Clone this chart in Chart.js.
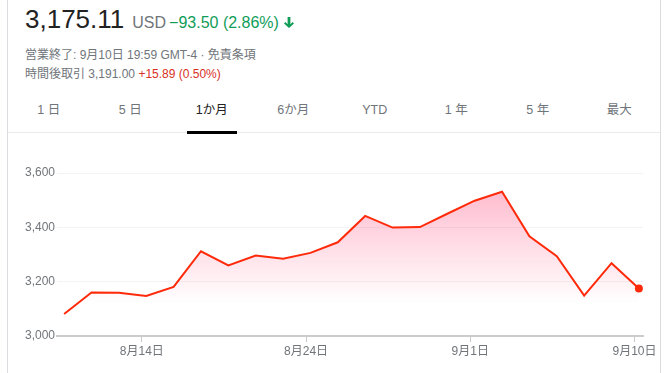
<!DOCTYPE html>
<html lang="ja">
<head>
    <meta charset="UTF-8">
    <title>株価 1か月</title>
    <script src="https://cdn.jsdelivr.net/npm/chart.js@4.4.8/dist/chart.umd.min.js"></script>
    <style>
        body { margin: 0; width: 669px; height: 373px; overflow: hidden; background: #fff;
               font-family: "Liberation Sans", Arial, "Noto Sans CJK JP", sans-serif; position: relative; }
        .frame { position: absolute; left: 7px; top: 0; width: 652px; height: 373px;
                 border-left: 1px solid #dadce0; border-right: 1px solid #dadce0; z-index: 2; pointer-events: none; }
        .price { position: absolute; left: 25px; top: 4px; font-size: 26px; color: #222; white-space: nowrap; }
        .price .cur { font-size: 16px; color: #70757a; margin-left: 8px; }
        .price .chg { font-size: 16px; color: #0f9d58; margin-left: 3px; }
        .price svg { margin-left: 5px; vertical-align: -1px; }
        .sub { position: absolute; left: 25px; font-size: 12px; color: #70757a; white-space: nowrap; }
        .sub .up { color: #d93025; }
        .tabs { position: absolute; left: 8px; top: 98px; width: 652px; height: 34px; display: flex;
                border-bottom: 1px solid #ebebeb; }
        .tabs div { flex: 1; text-align: center; font-size: 12.5px; color: #70757a; line-height: 24px; position: relative; }
        .tabs div.on { color: #222; }
        .tabs div.on:after { content: ""; position: absolute; left: 16px; right: 16px; bottom: -2px; height: 3px; background: #000; }
        #wrap { position: absolute; left: 8px; top: 140px; width: 661px; height: 233px; }
    </style>
</head>
<body>
    <div class="frame"></div>
    <div class="price">3,175.11<span class="cur">USD</span><span class="chg">−93.50 (2.86%)</span><svg width="10" height="12" viewBox="0 0 10 12"><path d="M3.6 0h2.8v7.2l2.2-2.2 1.4 1.4L5 11 0 6.4 1.4 5l2.2 2.2z" fill="#0f9d58"/></svg></div>
    <div class="sub" style="top:45px">営業終了: 9月10日 19:59 GMT-4 · 免責条項</div>
    <div class="sub" style="top:64px">時間後取引 3,191.00 <span class="up">+15.89 (0.50%)</span></div>
    <div class="tabs">
        <div>1 日</div><div>5 日</div><div class="on">1か月</div><div>6か月</div>
        <div>YTD</div><div>1 年</div><div>5 年</div><div>最大</div>
    </div>
    <div id="wrap"><canvas id="stockChart"></canvas></div>
    <script>
        // trading days (month/day) and closing prices
        const dates = ['8/11', '8/12', '8/13', '8/14', '8/17', '8/18', '8/19', '8/20', '8/21', '8/24', '8/25',
                       '8/26', '8/27', '8/28', '8/31', '9/1', '9/2', '9/3', '9/4', '9/8', '9/9', '9/10'];
        const prices = [3081, 3160, 3159, 3147, 3181, 3312, 3260, 3296, 3284, 3306, 3345,
                        3442, 3399, 3401, 3450, 3498, 3531, 3367, 3294, 3149, 3268, 3175.11];
        const tickDates = ['8/14', '8/24', '9/1', '9/10'];
        const yTicks = [3000, 3200, 3400, 3600];

        function dayLabel(d) {
            const [m, day] = d.split('/');
            return m + '月' + day + '日';
        }

        const tickIdx = tickDates.map(d => dates.indexOf(d));
        const lastIdx = prices.length - 1;
        const font = { family: '"Liberation Sans", Arial, "Noto Sans CJK JP", sans-serif', size: 12 };

        const ctx = document.getElementById('stockChart').getContext('2d');
        new Chart(ctx, {
            type: 'line',
            data: {
                datasets: [{
                    data: prices.map((p, i) => ({ x: i, y: p })),
                    borderColor: '#ff2a0a',
                    borderWidth: 2,
                    tension: 0,
                    fill: 'start',
                    backgroundColor: (c) => {
                        const area = c.chart.chartArea;
                        if (!area) return 'rgba(255,60,110,0.2)';
                        const g = c.chart.ctx.createLinearGradient(0, area.top, 0, area.bottom);
                        g.addColorStop(0, 'rgba(255, 40, 100, 0.36)');
                        g.addColorStop(0.8, 'rgba(255, 40, 100, 0)');
                        return g;
                    },
                    pointRadius: prices.map((p, i) => i === lastIdx ? 4 : 0),
                    pointBackgroundColor: '#ff2a0a',
                    pointBorderWidth: 0,
                    pointHoverRadius: 0
                }]
            },
            options: {
                responsive: true,
                maintainAspectRatio: false,
                animation: false,
                layout: { padding: { top: 33, right: 26, left: 0, bottom: 0 } },
                plugins: { legend: { display: false }, tooltip: { enabled: false } },
                scales: {
                    x: {
                        type: 'linear',
                        min: -0.26,
                        max: lastIdx + 0.15,
                        afterBuildTicks: (s) => { s.ticks = tickIdx.map(i => ({ value: i - 0.16 })); },
                        afterFit: (s) => { s.height = 37; },
                        ticks: {
                            callback: (v) => dayLabel(dates[Math.round(v)]),
                            color: '#70757a', font: font, padding: 2, maxRotation: 0, autoSkip: false
                        },
                        grid: { drawOnChartArea: false, drawTicks: true, tickLength: 6, tickColor: '#c8c8c8' },
                        border: { color: '#cccccc', width: 2 }
                    },
                    y: {
                        min: 3000,
                        max: 3600,
                        afterBuildTicks: (s) => { s.ticks = yTicks.map(v => ({ value: v })); },
                        afterFit: (s) => { s.width = 49; },
                        ticks: {
                            callback: (v) => v.toLocaleString('en-US'),
                            color: '#70757a', font: font, padding: 2
                        },
                        grid: { color: '#f3f3f3', drawTicks: false },
                        border: { display: false }
                    }
                }
            }
        });
    </script>
</body>
</html>
